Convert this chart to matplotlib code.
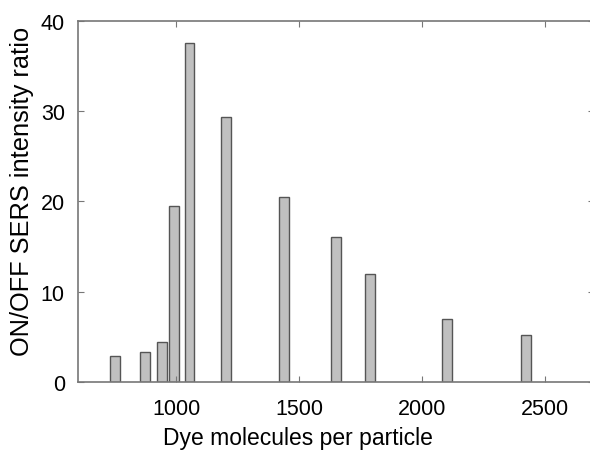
import numpy as np
import matplotlib.pyplot as plt

plt.rcParams['font.family'] = ['Liberation Sans', 'DejaVu Sans']

# datos
moleculas = [751, 873, 942, 991, 1054, 1204, 1439, 1651, 1790, 2101, 2423]
razon = [2.9, 3.3, 4.5, 19.45, 37.5, 29.4, 20.55, 16.05, 11.95, 7.0, 5.25]
xticks = [1000, 1500, 2000, 2500]
yticks = [0, 10, 20, 30, 40]

fig = plt.figure(figsize=(5.9, 4.52), dpi=100)
ax = fig.add_axes([78/590, 0.152, 516/590, 0.800])

ax.bar(moleculas, razon, width=40, color="#c0c0c0", edgecolor="#555555", linewidth=1.0)

ax.set_xlim(600, 2700)
ax.set_ylim(0, 40)
ax.set_xticks(xticks)
ax.set_yticks(yticks)
ax.tick_params(direction='in', top=True, right=True, length=4, color="#777777",
               labelsize=15.5)
ax.tick_params(axis='y', pad=9.5)
ax.tick_params(axis='x', pad=11)
for s in ax.spines.values():
    s.set_color("#777777")
    s.set_linewidth(1.2)

ax.set_xlabel("Dye molecules per particle", fontsize=16.5)
ax.set_ylabel("ON/OFF SERS intensity ratio", fontsize=18.3)
ax.xaxis.set_label_coords(0.426, -0.12)
ax.yaxis.set_label_coords(-0.086, 0.53)

fig.savefig("out.png", dpi=100)
